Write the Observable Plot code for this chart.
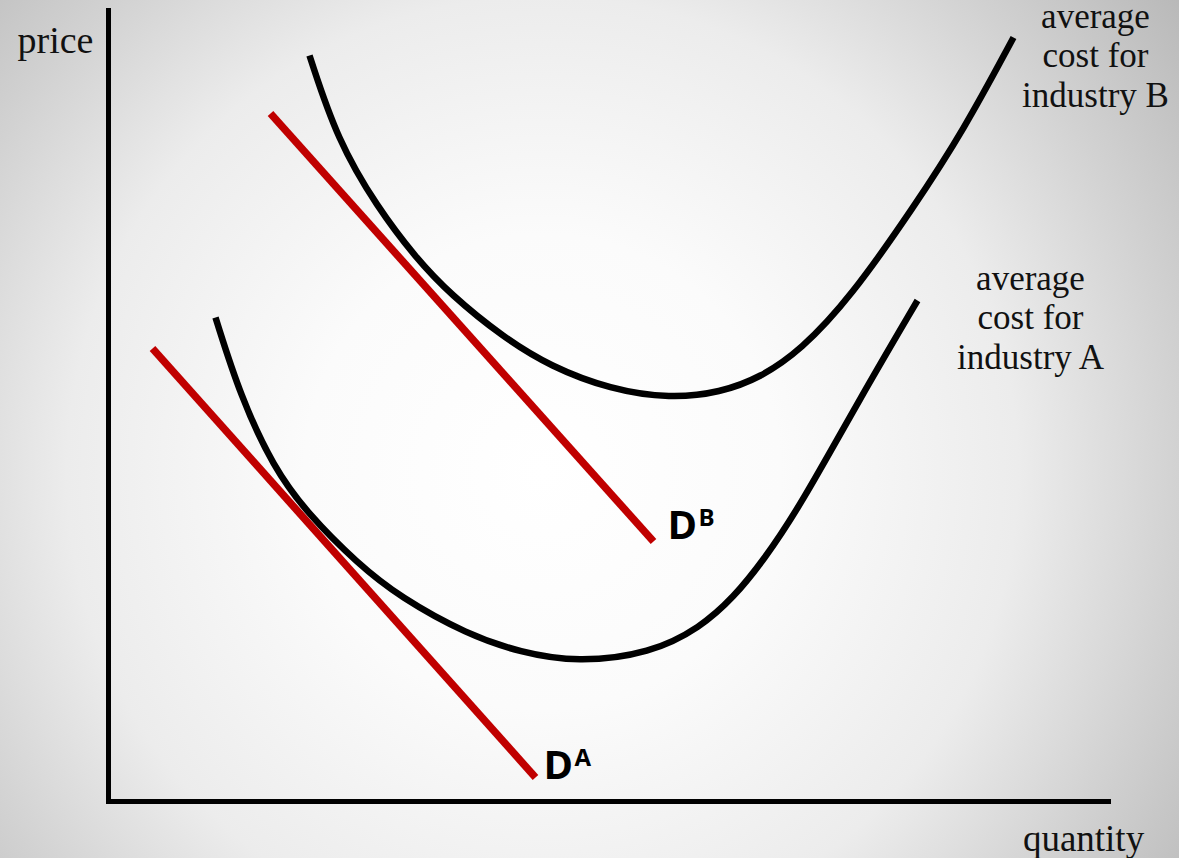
<!DOCTYPE html>
<html>
<head>
<meta charset="utf-8">
<script src="https://cdn.jsdelivr.net/npm/d3@7"></script>
<script src="https://cdn.jsdelivr.net/npm/@observablehq/plot@0.6"></script>
<style>
  html, body { margin: 0; padding: 0; }
  body { width: 1179px; height: 858px; overflow: hidden; }
  g[aria-label="axis-line"] { filter: drop-shadow(2px 3px 2px rgba(0,0,0,0.35)); }
</style>
</head>
<body>
<div id="chart"></div>
<script>
// Average cost curve for industry B (quantity, price)
const costBQ = [20.1, 22.9, 26.9, 30.7, 34.2, 39.5, 44.2, 50.2, 56.2, 61.2, 65.2, 69.2, 74.2, 80.5, 85.5, 90.5];
const costBP = [74.6, 66.1, 59.4, 54.4, 50.7, 46.4, 43.5, 41.2, 40.3, 40.9, 42.4, 45.1, 50.4, 59.4, 67.1, 76.4];
// Average cost curve for industry A
const costAQ = [10.7, 13.2, 16.5, 19.9, 24.9, 29.2, 35.9, 41.2, 46.9, 54.2, 59.2, 62.5, 65.5, 69.2, 75.2, 80.9];
const costAP = [48.4, 40.5, 33.4, 28.8, 23.8, 20.4, 16.7, 14.9, 13.9, 14.8, 17.4, 20.4, 24.1, 29.6, 40.4, 50.1];
// Demand lines (endpoints)
const demandBQ = [16.2, 54.5];
const demandBP = [68.8, 26.0];
const demandAQ = [4.4, 42.7];
const demandAP = [45.3, 2.4];
// Axis extents
const axisQ = [-0.2, 100.3];
const axisP = [-0.1, 79.3];
// Labels
const demandLabels = [
  {q: 55.9, p: 26.3, main: "D", sup: "B"},
  {q: 43.5, p: 2.3, main: "D", sup: "A"}
];
const curveLabels = [
  {q: 98.7, p: 69.5, text: "average\ncost for\nindustry B"},
  {q: 92.2, p: 43.3, text: "average\ncost for\nindustry A"}
];
const priceLabel = [{q: -9.1, p: 74.9, text: "price"}];
const quantityLabel = [{q: 97.5, p: -4.9, text: "quantity"}];

const zip = (qs, ps) => qs.map((q, i) => ({q, p: ps[i]}));
const curveB = zip(costBQ, costBP);
const curveA = zip(costAQ, costAP);
const demB = zip(demandBQ, demandBP);
const demA = zip(demandAQ, demandAP);

const serif = "'Liberation Serif', 'Times New Roman', serif";
const sans = "'Open Sans', 'Liberation Sans', sans-serif";

const chart = Plot.plot({
  width: 1179,
  height: 858,
  marginLeft: 108,
  marginRight: 71,
  marginTop: 1,
  marginBottom: 57,
  x: {domain: [0, 100], axis: null},
  y: {domain: [0, 80], axis: null},
  style: {
    background: "radial-gradient(circle at 46% 55%, #ffffff 0%, #fbfbfb 30%, #ececec 60%, #d2d2d2 80%, #b9b9b9 100%)",
    overflow: "visible"
  },
  marks: [
    Plot.ruleX([0], {y1: axisP[0], y2: axisP[1], stroke: "black", strokeWidth: 5, ariaLabel: "axis-line"}),
    Plot.ruleY([0], {x1: axisQ[0], x2: axisQ[1], stroke: "black", strokeWidth: 5, ariaLabel: "axis-line"}),
    Plot.line(demB, {x: "q", y: "p", stroke: "#c00000", strokeWidth: 7.5, strokeLinecap: "butt"}),
    Plot.line(demA, {x: "q", y: "p", stroke: "#c00000", strokeWidth: 7.5, strokeLinecap: "butt"}),
    Plot.line(curveB, {x: "q", y: "p", curve: "basis", stroke: "black", strokeWidth: 6.5, strokeLinecap: "butt"}),
    Plot.line(curveA, {x: "q", y: "p", curve: "basis", stroke: "black", strokeWidth: 6.5, strokeLinecap: "butt"}),
    Plot.text(demandLabels, {x: "q", y: "p", text: "main", textAnchor: "start", lineAnchor: "bottom",
      fontFamily: sans, fontWeight: "bold", fontSize: 40, fill: "black"}),
    Plot.text(demandLabels, {x: "q", y: "p", text: "sup", textAnchor: "start", lineAnchor: "bottom",
      dx: 31, dy: -13, fontFamily: sans, fontWeight: "bold", fontSize: 24, fill: "black"}),
    Plot.text(curveLabels, {x: "q", y: "p", text: "text", textAnchor: "middle", lineAnchor: "bottom",
      lineHeight: 39.5 / 35, fontFamily: serif, fontSize: 35, fill: "#111"}),
    Plot.text(priceLabel, {x: "q", y: "p", text: "text", textAnchor: "start", lineAnchor: "bottom",
      fontFamily: serif, fontSize: 38, fill: "#111"}),
    Plot.text(quantityLabel, {x: "q", y: "p", text: "text", textAnchor: "middle", lineAnchor: "bottom",
      fontFamily: serif, fontSize: 37, fill: "#111"})
  ]
});
document.getElementById("chart").appendChild(chart);
</script>
</body>
</html>
